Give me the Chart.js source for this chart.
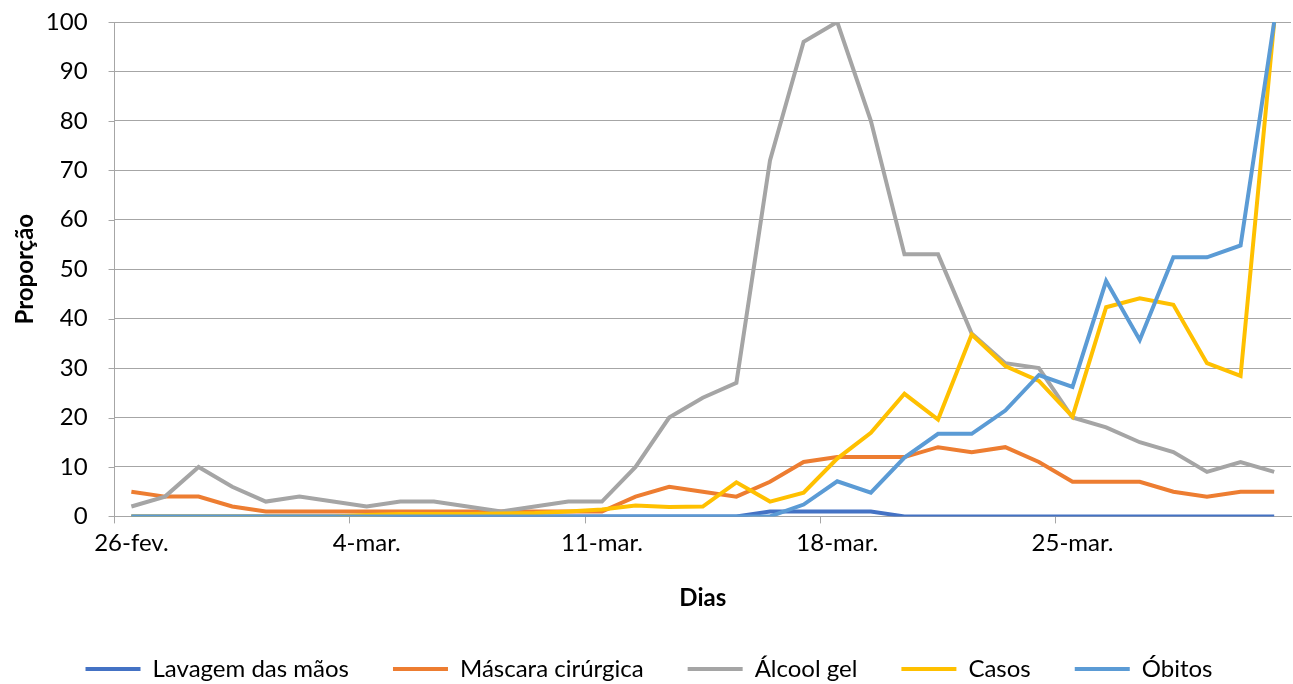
<!DOCTYPE html>
<html>
<head>
<meta charset="utf-8">
<script src="https://cdn.jsdelivr.net/npm/chart.js@4"></script>
<style>
  html, body { margin: 0; padding: 0; background: #fff; }
  #wrap { width: 1293px; height: 684px; }
</style>
</head>
<body>
<div id="wrap"><canvas id="grafico"></canvas></div>
<script>
// dias (26-fev. a 31-mar.)
const dias = ['26-fev.', '27-fev.', '28-fev.', '29-fev.', '1-mar.', '2-mar.', '3-mar.',
  '4-mar.', '5-mar.', '6-mar.', '7-mar.', '8-mar.', '9-mar.', '10-mar.',
  '11-mar.', '12-mar.', '13-mar.', '14-mar.', '15-mar.', '16-mar.', '17-mar.',
  '18-mar.', '19-mar.', '20-mar.', '21-mar.', '22-mar.', '23-mar.', '24-mar.',
  '25-mar.', '26-mar.', '27-mar.', '28-mar.', '29-mar.', '30-mar.', '31-mar.'];

const lavagem = [0, 0, 0, 0, 0, 0, 0, 0, 0, 0, 0, 0, 0, 0, 0, 0, 0, 0, 0, 1, 1,
  1, 1, 0, 0, 0, 0, 0, 0, 0, 0, 0, 0, 0, 0];
const mascara = [5, 4, 4, 2, 1, 1, 1, 1, 1, 1, 1, 1, 1, 1, 1, 4, 6, 5, 4, 7, 11,
  12, 12, 12, 14, 13, 14, 11, 7, 7, 7, 5, 4, 5, 5];
const alcool = [2, 4, 10, 6, 3, 4, 3, 2, 3, 3, 2, 1, 2, 3, 3, 10, 20, 24, 27, 72, 96,
  100, 80, 53, 53, 37, 31, 30, 20, 18, 15, 13, 9, 11, 9];
const casos = [0, 0, 0, 0, 0, 0, 0, 0.3, 0.5, 0.5, 0.5, 0.6, 0.7, 1, 1.4, 2.2, 1.9, 2, 6.9, 3, 4.8,
  11.7, 16.9, 24.8, 19.6, 36.8, 30.4, 27.4, 20.2, 42.3, 44.1, 42.8, 31, 28.4, 100];
const obitos = [0, 0, 0, 0, 0, 0, 0, 0, 0, 0, 0, 0, 0, 0, 0, 0, 0, 0, 0, 0, 2.4,
  7.1, 4.8, 11.9, 16.7, 16.7, 21.4, 28.6, 26.2, 47.6, 35.7, 52.4, 52.4, 54.8, 100];

const yTicks = [0, 10, 20, 30, 40, 50, 60, 70, 80, 90, 100];

const cinza = '#a6a6a6';
const fonte = 'Lato, "Liberation Sans", sans-serif';

function serie(nome, dados, cor, ordem) {
  return {
    label: nome,
    data: dados,
    borderColor: cor,
    backgroundColor: cor,
    borderWidth: 4,
    pointRadius: 0,
    tension: 0,
    fill: false,
    order: ordem
  };
}

// small tick marks left of the y axis (the long tickLength only spaces the labels)
const marcasY = {
  id: 'marcasY',
  afterDraw(chart) {
    const y = chart.scales.y;
    const c = chart.ctx;
    c.save();
    c.strokeStyle = cinza;
    c.lineWidth = 1;
    y.ticks.forEach(t => {
      const py = Math.round(y.getPixelForValue(t.value)) + 0.5;
      c.beginPath();
      c.moveTo(y.right - 6, py);
      c.lineTo(y.right, py);
      c.stroke();
    });
    c.restore();
  }
};

const ctx = document.getElementById('grafico').getContext('2d');
new Chart(ctx, {
  type: 'line',
  data: {
    labels: dias,
    datasets: [
      serie('Lavagem das mãos', lavagem, '#4472C4', 4),
      serie('Máscara cirúrgica', mascara, '#ED7D31', 3),
      serie('Álcool gel', alcool, '#A5A5A5', 2),
      serie('Casos', casos, '#FFC000', 1),
      serie('Óbitos', obitos, '#5B9BD5', 0)
    ]
  },
  plugins: [marcasY],
  options: {
    responsive: true,
    maintainAspectRatio: false,
    animation: false,
    layout: { padding: { top: 22, right: 2, left: 7, bottom: 0 } },
    scales: {
      x: {
        offset: true,
        grid: {
          offset: true,
          drawOnChartArea: false,
          tickLength: 7,
          lineWidth: 1,
          color: c => (c.index % 7 === 0 ? cinza : 'rgba(0,0,0,0)')
        },
        border: { color: cinza, width: 1 },
        ticks: {
          autoSkip: false,
          maxRotation: 0,
          padding: 5,
          color: '#000',
          font: { family: fonte, size: 24 },
          callback: (v, i) => (i % 7 === 0 ? dias[i] : '')
        },
        title: {
          display: true,
          text: 'Dias',
          color: '#000',
          font: { family: fonte, size: 24, weight: 'bold' },
          padding: { top: 22, bottom: 0 }
        }
      },
      y: {
        min: 0,
        max: 100,
        afterBuildTicks: axis => { axis.ticks = yTicks.map(v => ({ value: v })); },
        grid: { color: cinza, lineWidth: 1, tickLength: 27, tickColor: 'rgba(0,0,0,0)' },
        border: { color: cinza, width: 1 },
        ticks: {
          padding: 0,
          color: '#000',
          font: { family: fonte, size: 24 }
        },
        title: {
          display: true,
          text: 'Proporção',
          color: '#000',
          font: { family: fonte, size: 24, weight: 'bold' },
          padding: { top: 4, bottom: 6 }
        }
      }
    },
    plugins: {
      tooltip: { enabled: false },
      legend: {
        position: 'bottom',
        maxHeight: 71,
        labels: {
          color: '#000',
          font: { family: fonte, size: 24 },
          boxWidth: 55,
          boxHeight: 4,
          padding: 44,
          sort: (a, b) => a.datasetIndex - b.datasetIndex,
          generateLabels: chart => chart.data.datasets.map((ds, i) => ({
            text: ds.label,
            fillStyle: ds.borderColor,
            strokeStyle: ds.borderColor,
            lineWidth: 0,
            hidden: false,
            datasetIndex: i,
            fontColor: '#000'
          }))
        }
      }
    }
  }
});
</script>
</body>
</html>
